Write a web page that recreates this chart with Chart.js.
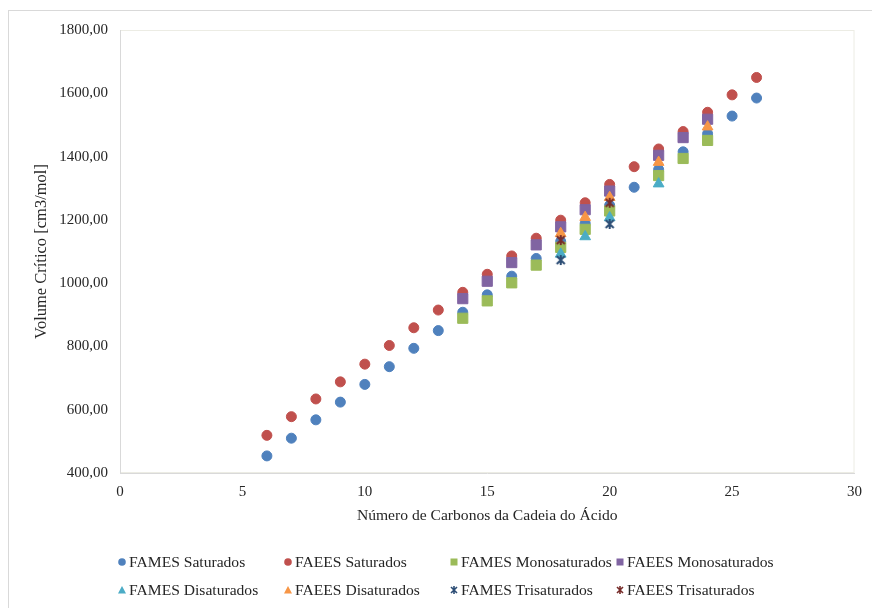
<!DOCTYPE html>
<html>
<head>
<meta charset="utf-8">
<script src="https://cdn.jsdelivr.net/npm/chart.js@4.4.1/dist/chart.umd.min.js"></script>
<style>
  html, body { margin: 0; padding: 0; background: #ffffff; }
  #wrap { position: relative; width: 872px; height: 608px; overflow: hidden;
          font-family: "Liberation Serif", "Times New Roman", serif; color: #262626; }
  #frame { position: absolute; left: 8px; top: 10px; width: 890px; height: 630px;
           border: 1px solid #D9D9D9; box-sizing: border-box; }
  #chart { position: absolute; left: 0; top: 0; }
  .lg-mark { position: absolute; width: 10px; height: 10px; }
  .lg-mark svg { display: block; }
  .lg-text { position: absolute; font-size: 15.6px; line-height: 18px; white-space: nowrap; }
</style>
</head>
<body>
<div id="wrap">
  <div id="frame"></div>
  <canvas id="chart" width="872" height="608"></canvas>
  <div id="legend"></div>
</div>
<script>
// Number of carbons in the acid chain, per series
const carbonsSaturados = [6, 7, 8, 9, 10, 11, 12, 13, 14, 15, 16, 17, 18, 19, 20, 21, 22, 23, 24, 25, 26];
const carbonsMono = [14, 15, 16, 17, 18, 19, 20, 22, 23, 24];
const carbonsFamesDi = [18, 19, 20, 22];
const carbonsFaeesDi = [18, 19, 20, 22, 24];
const carbonsTri = [18, 20];

// Critical volume [cm3/mol]
const famesSaturados = [454, 510, 568, 624, 680, 736, 794, 850, 908, 963, 1022, 1078, 1132, 1189, 1246, 1303, 1359, 1415, 1472, 1528, 1585];
const faeesSaturados = [519, 578, 634, 688, 744, 803, 859, 915, 971, 1028, 1086, 1142, 1199, 1254, 1312, 1368, 1424, 1479, 1540, 1595, 1650];
const famesMono = [889, 944, 1001, 1057, 1113, 1170, 1228, 1340, 1394, 1451];
const faeesMono = [951, 1006, 1065, 1121, 1178, 1232, 1291, 1404, 1460, 1518];
const famesDi = [1092, 1147, 1207, 1314];
const faeesDi = [1157, 1208, 1271, 1382, 1494];
const famesTri = [1073, 1187];
const faeesTri = [1136, 1254];

// Axis ticks
const xTickValues = [0, 5, 10, 15, 20, 25, 30];
const yTickValues = [400, 600, 800, 1000, 1200, 1400, 1600, 1800];

const FONT = '"Liberation Serif", "Times New Roman", serif';
const TEXT = '#262626';

function starMark(color) {
  const c = document.createElement('canvas');
  c.width = 12; c.height = 12;
  const g = c.getContext('2d');
  g.strokeStyle = color; g.lineWidth = 2; g.lineCap = 'butt';
  g.beginPath();
  g.moveTo(2, 2); g.lineTo(10, 10);
  g.moveTo(10, 2); g.lineTo(2, 10);
  g.moveTo(6, 1); g.lineTo(6, 11);
  g.stroke();
  return c;
}

const seriesDefs = [
  { label: 'FAMES Saturados',     xs: carbonsSaturados, ys: famesSaturados, color: '#4F81BD', style: 'circle',   r: 5 },
  { label: 'FAEES Saturados',     xs: carbonsSaturados, ys: faeesSaturados, color: '#C0504D', style: 'circle',   r: 5 },
  { label: 'FAMES Monosaturados', xs: carbonsMono,      ys: famesMono,      color: '#9BBB59', style: 'rect',     r: 7.2 },
  { label: 'FAEES Monosaturados', xs: carbonsMono,      ys: faeesMono,      color: '#8064A2', style: 'rect',     r: 7.2 },
  { label: 'FAMES Disaturados',   xs: carbonsFamesDi,   ys: famesDi,        color: '#4BACC6', style: 'triangle', r: 6.2 },
  { label: 'FAEES Disaturados',   xs: carbonsFaeesDi,   ys: faeesDi,        color: '#F79646', style: 'triangle', r: 6.2 },
  { label: 'FAMES Trisaturados',  xs: carbonsTri,       ys: famesTri,       color: '#2C4D75', style: 'star',     r: 6 },
  { label: 'FAEES Trisaturados',  xs: carbonsTri,       ys: faeesTri,       color: '#772C2A', style: 'star',     r: 6 }
];

const datasets = seriesDefs.map((s, i) => ({
  label: s.label,
  data: s.xs.map((x, k) => ({ x: x, y: s.ys[k] })),
  pointStyle: s.style === 'star' ? starMark(s.color) : s.style,
  pointRadius: s.r,
  pointHoverRadius: s.r,
  backgroundColor: s.color,
  borderColor: s.color,
  borderWidth: s.style === 'star' ? 0 : 1,
  order: seriesDefs.length - i   // later series drawn on top
}));

const plotFrame = {
  id: 'plotFrame',
  beforeDraw(chart) {
    const a = chart.chartArea, g = chart.ctx;
    g.save();
    g.strokeStyle = '#ECECE4';
    g.lineWidth = 1;
    g.strokeRect(a.left + 0.5, a.top + 0.5, a.right - a.left - 1, a.bottom - a.top - 1);
    g.restore();
  }
};

new Chart(document.getElementById('chart'), {
  type: 'scatter',
  data: { datasets },
  plugins: [plotFrame],
  options: {
    responsive: false,
    animation: false,
    layout: { padding: { left: 28, right: 16, top: 30, bottom: 79 } },
    plugins: { legend: { display: false }, tooltip: { enabled: false } },
    scales: {
      x: {
        type: 'linear', min: 0, max: 30,
        afterBuildTicks: s => { s.ticks = xTickValues.map(v => ({ value: v })); },
        afterFit: s => { s.height = 56; },
        grid: { display: false, drawTicks: false },
        border: { display: true, color: '#D9D9D9', width: 1 },
        ticks: { padding: 10, color: TEXT, font: { family: FONT, size: 15 }, maxRotation: 0 },
        title: { display: true, text: 'Número de Carbonos da Cadeia do Ácido', color: TEXT,
                 font: { family: FONT, size: 15.6 } }
      },
      y: {
        type: 'linear', min: 400, max: 1800,
        afterBuildTicks: s => { s.ticks = yTickValues.map(v => ({ value: v })); },
        afterFit: s => { s.width = 92; },
        grid: { display: false, drawTicks: false },
        border: { display: true, color: '#D9D9D9', width: 1 },
        ticks: { padding: 12, color: TEXT, font: { family: FONT, size: 15 },
                 callback: v => v.toFixed(2).replace('.', ',') },
        title: { display: true, text: 'Volume Crítico [cm3/mol]', color: TEXT,
                 font: { family: FONT, size: 16.5 } }
      }
    }
  }
});

// Legend: two rows of four entries
const legendCols = [122, 288, 454, 620];
const legendRows = [562, 590];
function markerSvg(style, color) {
  let shape;
  if (style === 'circle') shape = `<circle cx="5" cy="5" r="3.8" fill="${color}"/>`;
  else if (style === 'rect') shape = `<rect x="1.5" y="1.5" width="7" height="7" fill="${color}"/>`;
  else if (style === 'triangle') shape = `<polygon points="5,1 9,8.5 1,8.5" fill="${color}"/>`;
  else shape = `<path d="M2 2 L8 8 M8 2 L2 8 M5 1 L5 9" stroke="${color}" stroke-width="1.6" fill="none"/>`;
  return `<svg width="10" height="10" viewBox="0 0 10 10">${shape}</svg>`;
}
const legendEl = document.getElementById('legend');
seriesDefs.forEach((s, i) => {
  const cx = legendCols[i % 4], cy = legendRows[Math.floor(i / 4)];
  const m = document.createElement('div');
  m.className = 'lg-mark';
  m.style.left = (cx - 5) + 'px';
  m.style.top = (cy - 5) + 'px';
  m.innerHTML = markerSvg(s.style, s.color);
  legendEl.appendChild(m);
  const t = document.createElement('div');
  t.className = 'lg-text';
  t.style.left = (cx + 7) + 'px';
  t.style.top = (cy - 9) + 'px';
  t.textContent = s.label;
  legendEl.appendChild(t);
});
</script>
</body>
</html>
